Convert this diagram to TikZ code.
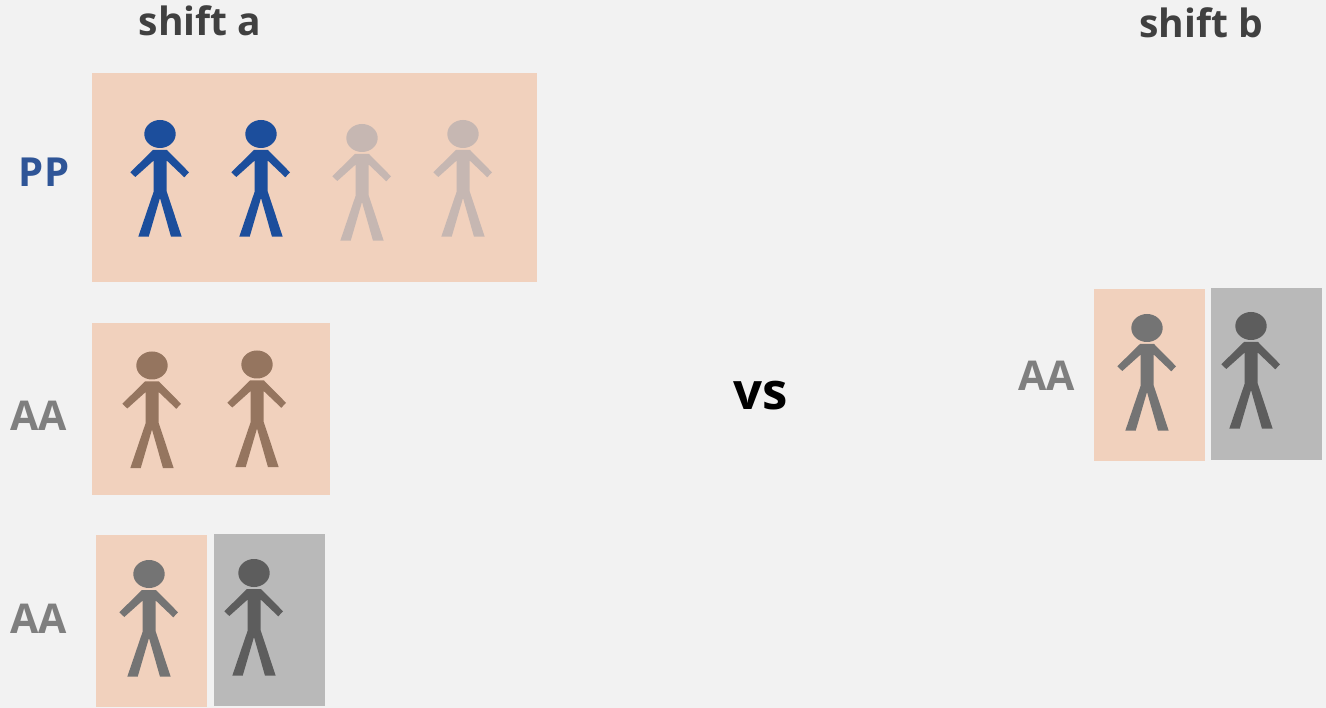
\documentclass[tikz,border=0pt]{standalone}
\usepackage{fontspec}
\setmainfont{Open Sans}
\definecolor{bgc}{HTML}{F2F2F2}
\definecolor{peach}{HTML}{F1D1BD}
\definecolor{boxgray}{HTML}{B9B9B9}
\definecolor{blueman}{HTML}{1C4E9C}
\definecolor{fademan}{HTML}{C6B7B2}
\definecolor{brownman}{HTML}{95755F}
\definecolor{grayman}{HTML}{747474}
\definecolor{darkman}{HTML}{5D5D5D}
\definecolor{titlec}{HTML}{404040}
\definecolor{ppc}{HTML}{2F5597}
\definecolor{aac}{HTML}{7F7F7F}
\tikzset{
  x=1pt,y=-1pt,
  man/.pic={
    \fill (0,0) ellipse [x radius=15.7,y radius=14];
    \fill (-7,16) -- (7,16) -- (29,38.3) -- (24.3,43.3) -- (6.7,26.5) -- (6.7,57.5)
      -- (21.7,102.7) -- (11,102.7) -- (0,64) -- (-11.3,102.7) -- (-21.7,102.7)
      -- (-6.3,57.5) -- (-6.3,26.5) -- (-24.7,43) -- (-29.7,38.3) -- cycle;
  },
  lab/.style={inner sep=0pt,anchor=center},
  ttl/.style={lab,font=\fontsize{39}{46}\selectfont\bfseries,text=titlec},
  pp/.style={lab,font=\fontsize{40}{48}\selectfont\bfseries,text=ppc},
  aa/.style={lab,font=\fontsize{41}{49}\selectfont\bfseries,text=aac},
  vs/.style={lab,font=\fontsize{51}{60}\selectfont\bfseries,text=black},
}
\begin{document}
\begin{tikzpicture}
\useasboundingbox (0,0) rectangle (1326,708);
\fill[bgc] (0,0) rectangle (1326,708);
\fill[peach] (92,73) rectangle (537,282);
\fill[peach] (92,323) rectangle (330,495);
\fill[peach] (96,535) rectangle (207,707);
\fill[boxgray] (214,534) rectangle (325,706);
\fill[peach] (1094,289) rectangle (1205,461);
\fill[boxgray] (1211,288) rectangle (1322,460);
\pic[color=blueman] at (160,134) {man};
\pic[color=blueman] at (261,134) {man};
\pic[color=fademan] at (362,138) {man};
\pic[color=fademan] at (463,134) {man};
\pic[color=brownman] at (152,365.5) {man};
\pic[color=brownman] at (257,364.5) {man};
\pic[color=grayman] at (149,574) {man};
\pic[color=darkman] at (254,573) {man};
\pic[color=grayman] at (1147,328) {man};
\pic[color=darkman] at (1251,326) {man};
\node[ttl] (ta) at (200,21) {shift a};
\node[ttl] (tb) at (1201,23) {shift b};
\node[pp] (lpp) at (44,172) {PP};
\node[aa] (la1) at (38.5,416) {AA};
\node[aa] (la2) at (38.5,619) {AA};
\node[aa] (la3) at (1046.5,376) {AA};
\node[vs] (v) at (761,396) {vs};
\end{tikzpicture}
\end{document}
